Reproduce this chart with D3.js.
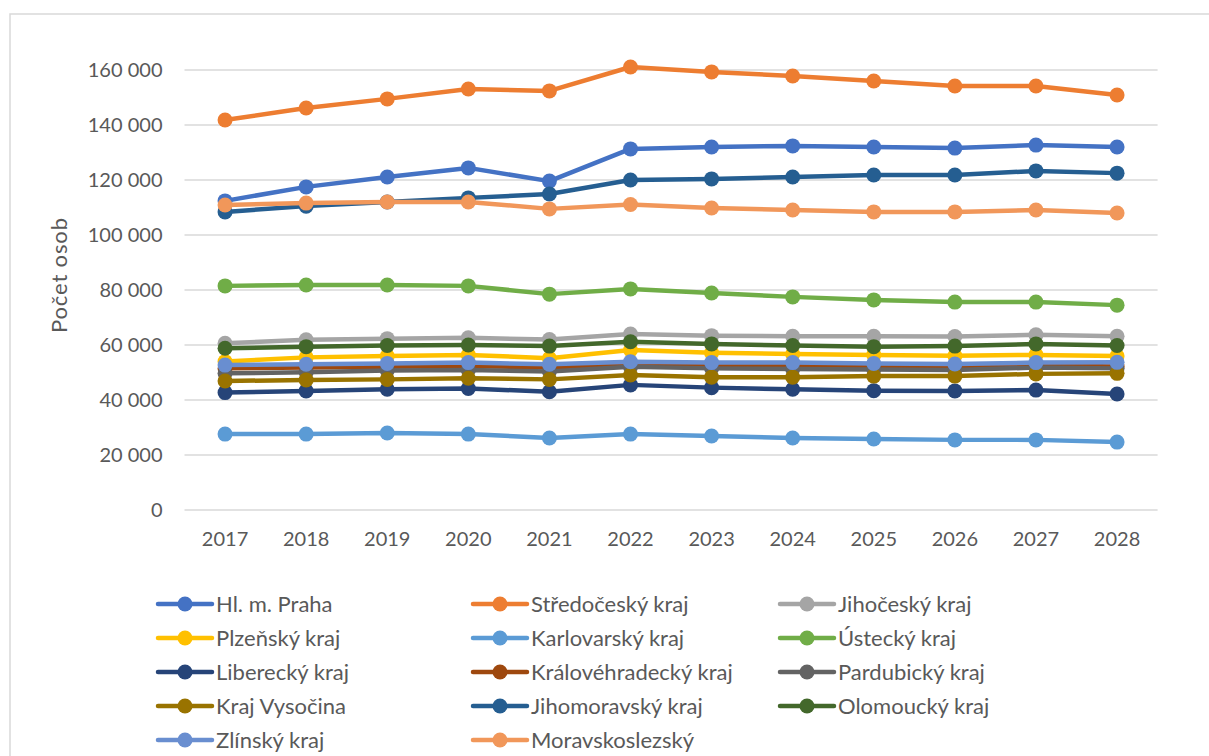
<!DOCTYPE html>
<html><head><meta charset="utf-8">
<script src="https://cdn.jsdelivr.net/npm/d3@7/dist/d3.min.js"></script>
<style>body{margin:0;background:#fff}svg{display:block}text{font-family:Lato,"Open Sans",sans-serif;fill:#595959}</style>
</head><body><svg id="c" width="1209" height="756"></svg>
<script>
const years = ["2017","2018","2019","2020","2021","2022","2023","2024","2025","2026","2027","2028"];
const yTicks = [0,20000,40000,60000,80000,100000,120000,140000,160000];
const names = ["Hl. m. Praha","Středočeský kraj","Jihočeský kraj","Plzeňský kraj","Karlovarský kraj","Ústecký kraj","Liberecký kraj","Královéhradecký kraj","Pardubický kraj","Kraj Vysočina","Jihomoravský kraj","Olomoucký kraj","Zlínský kraj","Moravskoslezský"];
const colors = ["#4472C4","#ED7D31","#A5A5A5","#FFC000","#5B9BD5","#70AD47","#264478","#9E480E","#636363","#997300","#255E91","#43682B","#698ED0","#F1975A"];
const praha = [112400,117500,121100,124400,119600,131300,132000,132400,132000,131600,132700,132000];
const stredocesky = [141800,146200,149500,153100,152400,161100,159300,157800,156000,154200,154200,150900];
const jihocesky = [60600,61900,62300,62600,62000,64000,63400,63200,63200,63100,63700,63200];
const plzensky = [54000,55500,56000,56400,55200,58200,57200,56700,56400,56100,56400,56000];
const karlovarsky = [27600,27600,28000,27600,26200,27600,26900,26200,25800,25500,25500,24700];
const ustecky = [81500,81800,81800,81500,78500,80400,78900,77500,76400,75600,75600,74500];
const liberecky = [42700,43300,43900,44200,43000,45500,44500,43900,43400,43300,43600,42200];
const kralovehradecky = [51500,51800,52100,52400,51800,52700,52400,52400,52100,51900,52600,52200];
const pardubicky = [49700,50100,50700,50900,50400,52100,51500,51300,51100,50900,51800,51500];
const vysocina = [46900,47300,47500,47900,47500,49100,48300,48300,48700,48700,49500,49700];
const jihomoravsky = [108400,110500,112000,113500,114900,120000,120400,121100,121800,121800,123300,122500];
const olomoucky = [58800,59400,59800,60000,59600,61200,60400,59800,59400,59600,60400,59800];
const zlinsky = [52700,53000,53300,53600,53000,53900,53600,53600,53300,53100,53600,53700];
const moravskoslezsky = [110900,111600,112000,112000,109500,111100,109800,109100,108400,108400,109100,108000];
const seriesValues = [praha,stredocesky,jihocesky,plzensky,karlovarsky,ustecky,liberecky,kralovehradecky,pardubicky,vysocina,jihomoravsky,olomoucky,zlinsky,moravskoslezsky];

const svg = d3.select("#c");
svg.append("rect").attr("x",10).attr("y",14).attr("width",1200).attr("height",750)
  .attr("fill","#fff").attr("stroke","#d9d9d9").attr("stroke-width",1.5);

const x = d3.scaleBand().domain(years).range([184.5,1157.6]);
const y = d3.scaleLinear().domain([0,160000]).range([510,70]);
const fmt = v => d3.format(",")(v).replace(/,/g," ");

const g = svg.append("g");
g.selectAll("line.grid").data(yTicks).join("line").attr("class","grid")
  .attr("x1",184.5).attr("x2",1157.6).attr("y1",d=>y(d)).attr("y2",d=>y(d))
  .attr("stroke","#d9d9d9").attr("stroke-width",1.5);

const yAxis = svg.append("g").attr("transform","translate(184.5,0)")
  .call(d3.axisLeft(y).tickValues(yTicks).tickFormat(fmt).tickSize(0).tickPadding(22));
yAxis.select(".domain").remove();
yAxis.selectAll("text").style("font-size","20px").attr("fill","#595959").style("font-family","Lato");

const xAxis = svg.append("g").attr("transform","translate(0,510)")
  .call(d3.axisBottom(x).tickSize(0).tickPadding(22));
xAxis.select(".domain").remove();
xAxis.selectAll("text").style("font-size","20px").attr("fill","#595959").style("font-family","Lato");

svg.append("text").attr("transform","translate(67,275.5) rotate(-90)").attr("text-anchor","middle")
  .style("font-size","22px").attr("textLength",115).attr("lengthAdjust","spacing").text("Počet osob");

const line = d3.line().x((d,i)=>x(years[i])+x.bandwidth()/2).y(d=>y(d));
seriesValues.forEach((vals,k)=>{
  const s = svg.append("g");
  s.append("path").attr("d",line(vals)).attr("fill","none").attr("stroke",colors[k])
    .attr("stroke-width",4.5).attr("stroke-linejoin","round").attr("stroke-linecap","round");
  s.selectAll("circle").data(vals).join("circle")
    .attr("cx",(d,i)=>x(years[i])+x.bandwidth()/2).attr("cy",d=>y(d)).attr("r",7.5)
    .attr("fill",colors[k]);
});

const colX = [158,473,780];
const rowY = [604,638,672,706,740];
names.forEach((n,k)=>{
  const cx = colX[k%3], cy = rowY[Math.floor(k/3)];
  const lg = svg.append("g");
  lg.append("line").attr("x1",cx).attr("x2",cx+54).attr("y1",cy).attr("y2",cy)
    .attr("stroke",colors[k]).attr("stroke-width",4.5).attr("stroke-linecap","round");
  lg.append("circle").attr("cx",cx+27).attr("cy",cy).attr("r",7.5).attr("fill",colors[k]);
  lg.append("text").attr("x",cx+58).attr("y",cy).attr("dy","0.36em").style("font-size","22px").text(n);
});
</script></body></html>
